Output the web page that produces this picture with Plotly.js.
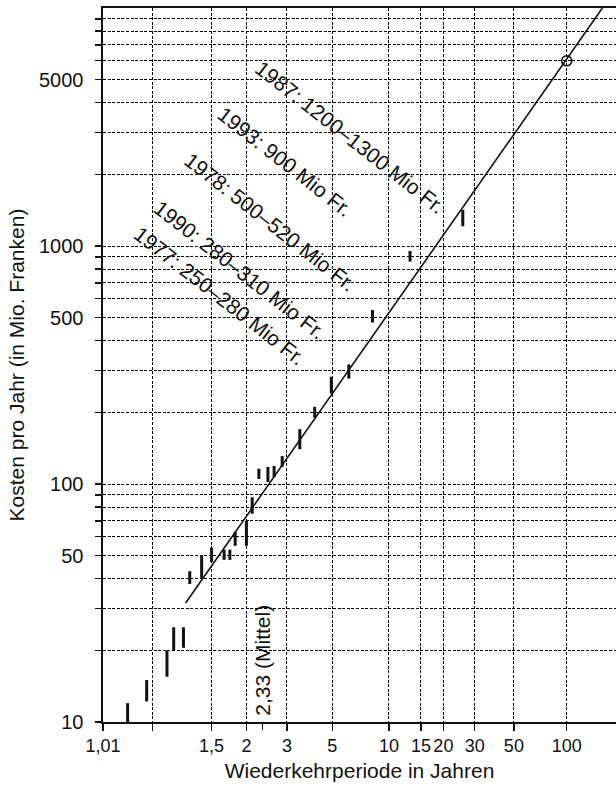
<!DOCTYPE html>
<html>
<head>
<meta charset="utf-8">
<script src="https://cdn.plot.ly/plotly-3.0.1.min.js"></script>
<style>html,body{margin:0;padding:0;background:#fff;overflow:hidden}</style>
</head>
<body>
<div id="chart" style="width:616px;height:787px"></div>
<script>
// ---- data ----
const barPeriods = [1.037, 1.081, 1.16, 1.195, 1.255, 1.30, 1.40, 1.50, 1.65, 1.73, 1.81, 2.0, 2.11, 2.25, 2.46, 2.62, 2.85, 3.45, 4.08, 4.95, 6.1, 8.15, 13.05, 25.7];
const barLow     = [10, 12.2, 15.5, 20, 20.5, 38, 40, 47, 48, 48, 55, 55, 75, 105, 102, 107, 118, 140, 190, 240, 277, 477, 860, 1210];
const barHigh    = [12, 15, 20, 25, 25, 43, 50, 54, 53, 53, 63, 70, 88, 116, 118, 119, 131, 170, 211, 282, 318, 538, 953, 1420];
const fitPeriods = [1.27, 160];
const fitCosts   = [31.6, 10000];
const markPeriods = [100];
const markCosts   = [6000];
const meanPeriods = [2.33];
const xTickPeriods = [1.01, 1.1, 1.5, 2, 3, 5, 10, 15, 20, 30, 50, 100];
const xTickLabels  = ['1,01', '', '1,5', '2', '3', '5', '10', '15', '20', '30', '50', '100'];
const yTickValues = [10,20,30,40,50,60,70,80,90,100,200,300,400,500,600,700,800,900,1000,2000,3000,4000,5000,6000,7000,8000,9000];
const yLabelled   = [10, 50, 100, 500, 1000, 5000];
const eventLabels = ['1987: 1200–1300 Mio Fr.', '1993: 900 Mio Fr.', '1978: 500–520 Mio Fr.', '1990: 280–310 Mio Fr.', '1977: 250–280 Mio Fr.'];
const meanLabel = '2,33 (Mittel)';
const xTitle = 'Wiederkehrperiode in Jahren';
const yTitle = 'Kosten pro Jahr (in Mio. Franken)';

// Gumbel reduced variate (probability-paper scale)
const gumbel = T => -Math.log(-Math.log(1 - 1 / T));

const FONT = 'Liberation Sans, Arial, Helvetica, sans-serif';
const INK = '#111';

const bx = [], by = [];
barPeriods.forEach((T, i) => { const u = gumbel(T); bx.push(u, u, null); by.push(barLow[i], barHigh[i], null); });

const xMin = gumbel(1.01);
const xMax = xMin + 513 / 75.65;

const traces = [
  { x: bx, y: by, mode: 'lines', line: { color: INK, width: 3 }, hoverinfo: 'skip', showlegend: false },
  { x: fitPeriods.map(gumbel), y: fitCosts, xaxis: 'x2', mode: 'lines', line: { color: INK, width: 1.6 }, showlegend: false },
  { x: markPeriods.map(gumbel), y: markCosts, mode: 'markers', marker: { symbol: 'circle-open', size: 10, color: INK, line: { width: 1.6, color: INK } }, showlegend: false }
];

const annoPos = [[1.742, 3.454], [0.872, 3.353], [0.672, 3.101], [0.275, 2.903], [0.011, 2.794]];
const annotations = eventLabels.map((t, i) => ({
  text: t, x: annoPos[i][0], y: annoPos[i][1], xref: 'x', yref: 'y',
  textangle: 38, showarrow: false, xanchor: 'center', yanchor: 'middle',
  font: { family: FONT, size: 21, color: INK }
}));
annotations.push({
  text: meanLabel, x: gumbel(meanPeriods[0]), y: 0.006, xref: 'x', yref: 'paper',
  textangle: -90, showarrow: false, xanchor: 'center', yanchor: 'bottom',
  font: { family: FONT, size: 21, color: INK }
});

const gridStyle = { showgrid: true, gridcolor: '#000', gridwidth: 1, griddash: '3px,1.6px' };

const layout = {
  width: 616, height: 787,
  margin: { l: 103, r: 0, t: 8, b: 65 },
  paper_bgcolor: '#fff', plot_bgcolor: '#fff',
  font: { family: FONT, size: 20, color: INK },
  showlegend: false,
  xaxis: Object.assign({
    range: [xMin, xMax], tickmode: 'array',
    tickvals: xTickPeriods.map(gumbel), ticktext: xTickLabels, tickangle: 0,
    ticks: 'outside', ticklen: 7, tickwidth: 1.3, tickcolor: INK,
    showline: true, linecolor: INK, linewidth: 1.6, mirror: true, zeroline: false,
    tickfont: { family: FONT, size: 18, color: INK },
    title: { text: xTitle, standoff: 8, font: { family: FONT, size: 21, color: INK } }
  }, gridStyle),
  xaxis2: {
    overlaying: 'x', anchor: 'y', side: 'bottom', range: [xMin, xMax],
    tickmode: 'array', tickvals: meanPeriods.map(gumbel), ticktext: [''],
    ticks: 'outside', ticklen: 7, tickwidth: 1.3, tickcolor: INK,
    showgrid: false, showline: false, zeroline: false
  },
  yaxis: Object.assign({
    type: 'log', range: [1, 4], tickmode: 'array',
    tickvals: yTickValues, ticktext: yTickValues.map(v => yLabelled.includes(v) ? String(v) : ''),
    ticks: 'outside', ticklen: 6, tickwidth: 1.3, tickcolor: INK, ticklabelstandoff: 8,
    showline: true, linecolor: INK, linewidth: 1.6, mirror: false, zeroline: false,
    tickfont: { family: FONT, size: 20, color: INK },
    title: { text: yTitle, standoff: 8, font: { family: FONT, size: 21, color: INK } }
  }, gridStyle),
  annotations: annotations
};

Plotly.newPlot('chart', traces, layout, { staticPlot: true, displayModeBar: false });
</script>
</body>
</html>
